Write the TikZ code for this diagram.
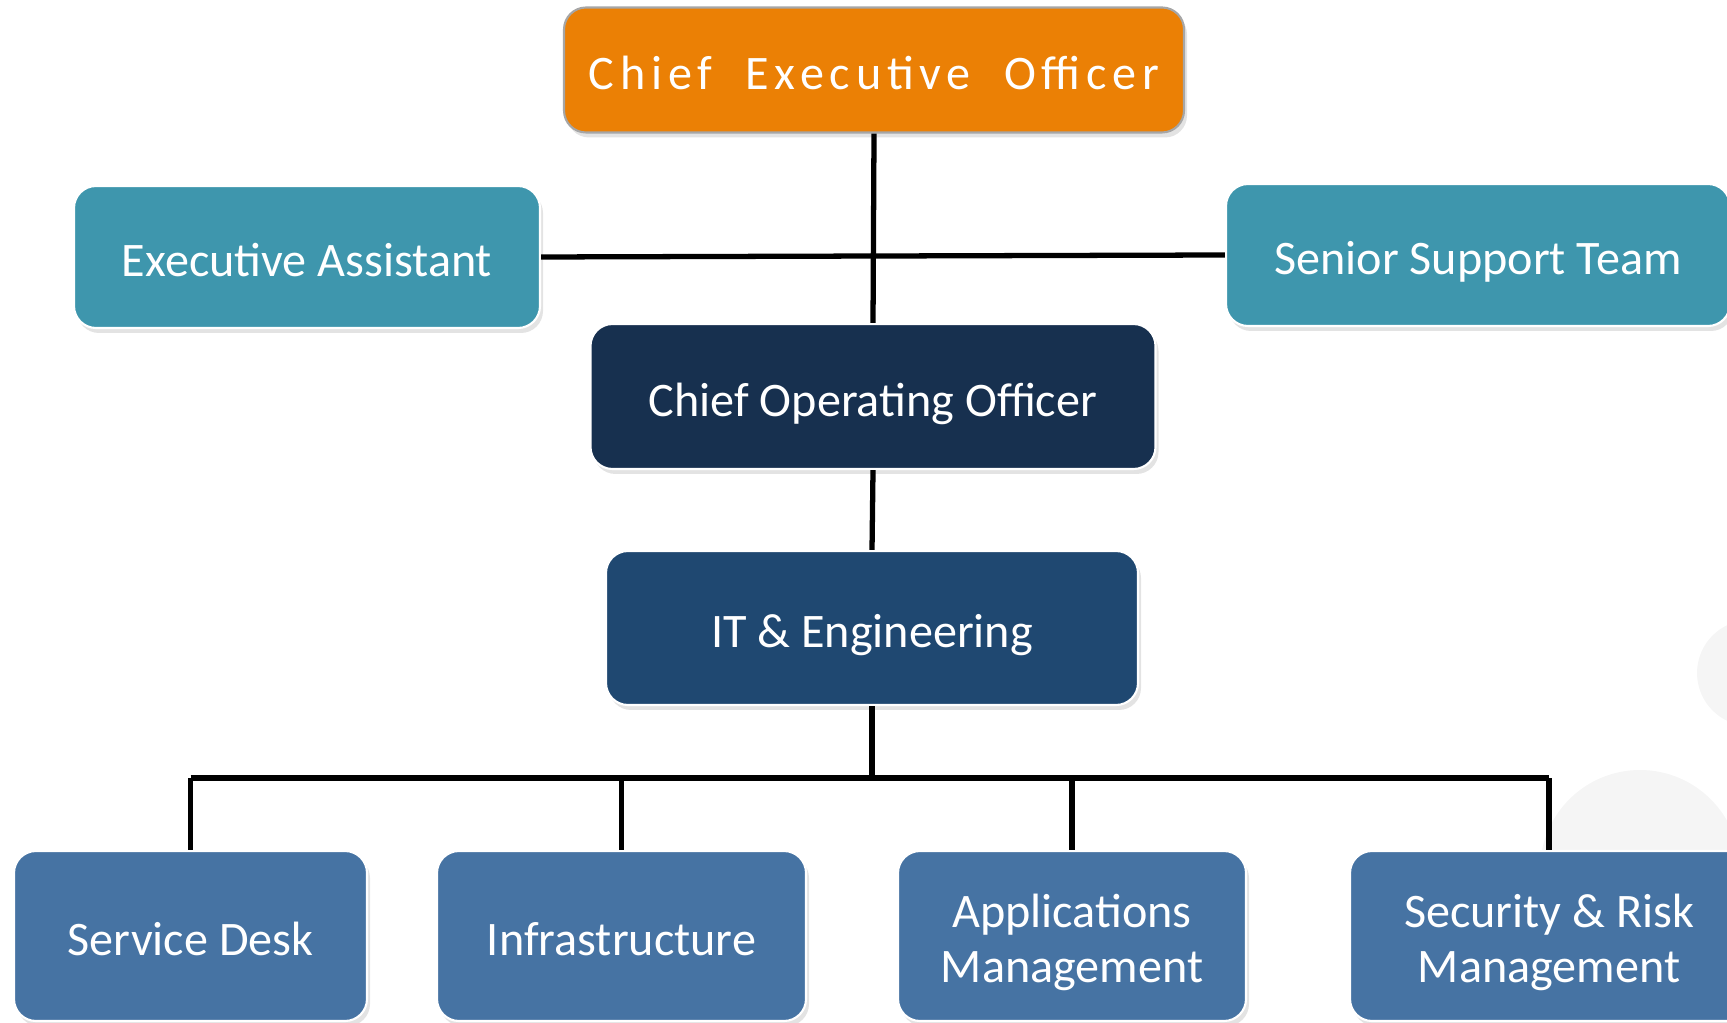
\documentclass[tikz,border=0pt]{standalone}
\usepackage{fontspec}
\setmainfont{Carlito}
\usetikzlibrary{shadows}

\definecolor{ceoorange}{RGB}{235,128,5}
\definecolor{teal}{RGB}{62,150,173}
\definecolor{navy}{RGB}{23,48,79}
\definecolor{itblue}{RGB}{31,72,113}
\definecolor{unitblue}{RGB}{70,115,163}
\definecolor{bgcircle}{RGB}{245,245,245}

\begin{document}
\begin{tikzpicture}[
    box/.style={rounded corners=0.22cm, draw=white, line width=0.6pt, text=white,
        align=center, font=\fontsize{13.7}{15.7}\selectfont, inner sep=0pt,
        text height=13pt, text depth=1.7pt,
        drop shadow={opacity=0.22, shadow xshift=0.03cm, shadow yshift=-0.05cm}},
    twoline/.style={text height=29pt, text depth=2.7pt},
    link/.style={line width=1.5pt, black}
]
    \useasboundingbox (0,0) rectangle (17.27,-10.23);
    \clip (0,0) rectangle (17.27,-10.23);
    \fill[bgcircle] (17.50,-6.73) circle(0.53);
    \fill[bgcircle] (16.40,-8.70) circle(1.0);

    % top
    \node[box, fill=ceoorange, draw=gray!70, minimum width=6.2cm, minimum height=1.25cm]
        (ceo) at (8.74,-0.70) {\addfontfeature{LetterSpace=12}Chief\ \ Executive\ \ Officer};
    \node[box, fill=teal, minimum width=4.66cm, minimum height=1.42cm]
        (assistant) at (3.07,-2.57) {Executive Assistant};
    \node[box, fill=teal, minimum width=5.04cm, minimum height=1.42cm]
        (support) at (14.78,-2.55) {Senior Support Team};
    \node[box, fill=navy, minimum width=5.65cm, minimum height=1.45cm]
        (coo) at (8.73,-3.965) {Chief Operating Officer};
    \node[box, fill=itblue, minimum width=5.32cm, minimum height=1.54cm]
        (it) at (8.72,-6.28) {IT \& Engineering};

    % units
    \node[box, fill=unitblue, minimum width=3.53cm, minimum height=1.70cm]
        (desk) at (1.905,-9.36) {Service Desk};
    \node[box, fill=unitblue, minimum width=3.69cm, minimum height=1.70cm]
        (infra) at (6.215,-9.36) {Infrastructure};
    \node[box, twoline, fill=unitblue, minimum width=3.48cm, minimum height=1.70cm]
        (apps) at (10.72,-9.36) {Applications\\Management};
    \node[box, twoline, fill=unitblue, minimum width=3.98cm, minimum height=1.70cm]
        (security) at (15.49,-9.36) {Security \& Risk\\Management};

    \draw[link] (ceo.south) -- (coo.north);
    \draw[link] (assistant.east) -- (support.west);
    \draw[link] (coo.south) -- (it.north);
    \coordinate (bus) at (it.south |- 0,-7.78);
    \draw[link] (it.south) -- (bus);
    \draw[link] (desk.north |- bus) -- (security.north |- bus);
    \foreach \u in {desk,infra,apps,security}
        \draw[link] (\u.north |- bus) -- (\u.north);
\end{tikzpicture}
\end{document}
